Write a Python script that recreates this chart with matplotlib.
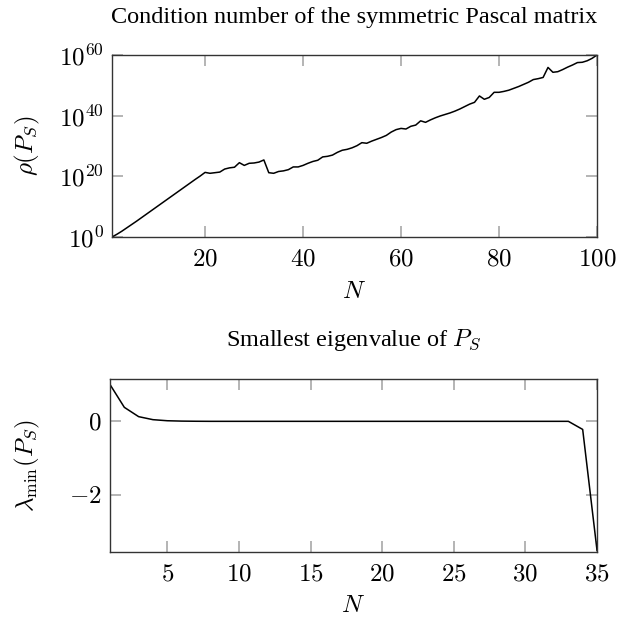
import matplotlib
matplotlib.use("Agg")
import matplotlib.pyplot as plt
import numpy as np

plt.rcParams['font.family'] = 'serif'
plt.rcParams['font.serif'] = ['Liberation Serif', 'DejaVu Serif']
plt.rcParams['mathtext.fontset'] = 'cm'

# log10 of the condition number rho(P_S), N = 1..100
n_cond = list(range(1, 101))
log_cond = [
    0.0, 0.9, 1.9, 3.0, 4.1, 5.2, 6.35, 7.5, 8.65, 9.8,
    10.95, 12.1, 13.25, 14.4, 15.55, 16.7, 17.85, 19.0, 20.1, 21.3,
    21.0, 21.2, 21.4, 22.4, 22.8, 23.0, 24.5, 23.6, 24.3, 24.4,
    24.7, 25.4, 21.2, 21.0, 21.6, 21.8, 22.2, 23.1, 23.1, 23.6,
    24.3, 24.9, 25.3, 26.4, 26.6, 27.0, 27.9, 28.6, 28.9, 29.4,
    30.1, 31.1, 30.9, 31.6, 32.2, 32.8, 33.5, 34.6, 35.4, 35.8,
    35.6, 36.5, 36.9, 38.3, 37.8, 38.6, 39.3, 39.9, 40.4, 40.9,
    41.5, 42.2, 43.0, 43.8, 44.4, 46.5, 45.4, 46.0, 47.7, 47.7,
    48.0, 48.4, 49.0, 49.6, 50.3, 51.0, 51.9, 52.2, 52.6, 55.9,
    54.3, 54.5, 55.2, 56.0, 56.7, 57.5, 57.6, 58.1, 58.9, 60.0,
]
cond_yticks = [0, 20, 40, 60]
cond_xticks = [20, 40, 60, 80, 100]

# smallest eigenvalue of P_S, N = 1..35
n_eig = list(range(1, 36))
lam_min = [
    1.0, 0.38, 0.127, 0.045, 0.016, 0.006, 0.002, 0.0, 0.0, 0.0,
    0.0, 0.0, 0.0, 0.0, 0.0, 0.0, 0.0, 0.0, 0.0, 0.0,
    0.0, 0.0, 0.0, 0.0, 0.0, 0.0, 0.0, 0.0, 0.0, 0.0,
    0.0, 0.0, 0.0, -0.22, -3.5,
]
eig_yticks = [-2, 0]
eig_xticks = [5, 10, 15, 20, 25, 30, 35]

W, H = 619, 621
fig = plt.figure(figsize=(W / 100, H / 100), dpi=100)


def box(left, top, right, bottom):
    return [left / W, 1 - bottom / H, (right - left) / W, (bottom - top) / H]


def style(ax):
    for s in ax.spines.values():
        s.set_color('#333333')
        s.set_linewidth(1.0)
    ax.tick_params(which='major', direction='in', length=8, width=1.2,
                   color='#a8a8a8', top=True, right=True, labelsize=18)
    ax.tick_params(axis='x', pad=8)
    ax.tick_params(axis='y', pad=6)
    ax.tick_params(which='minor', length=0)


ax1 = fig.add_axes(box(112, 55, 597, 237))
ax1.plot(n_cond, 10.0 ** np.array(log_cond), color='black', lw=1.1)
ax1.set_yscale('log')
ax1.set_xlim(1, 100)
ax1.set_ylim(1, 1e60)
ax1.set_yticks([10.0 ** v for v in cond_yticks])
ax1.set_yticklabels([f'$10^{{{v}}}$' for v in cond_yticks])
ax1.set_xticks(cond_xticks)
ax1.set_xticklabels([f'${v}$' for v in cond_xticks])
ax1.minorticks_off()
style(ax1)
ax1.set_title('Condition number of the symmetric Pascal matrix',
              fontsize=17.5, pad=23)
ax1.set_xlabel('$N$', fontsize=18)
ax1.set_ylabel(r'$\rho(P_S)$', fontsize=18)
ax1.xaxis.set_label_coords(0.5, -0.24)
ax1.yaxis.set_label_coords(-0.145, 0.5)

ax2 = fig.add_axes(box(110, 379, 597, 552))
ax2.plot(n_eig, lam_min, color='black', lw=1.1)
ax2.set_xlim(1, 35)
ax2.set_ylim(-3.55, 1.15)
ax2.set_yticks(eig_yticks)
ax2.set_yticklabels([f'${v}$' for v in eig_yticks])
ax2.set_xticks(eig_xticks)
ax2.set_xticklabels([f'${v}$' for v in eig_xticks])
style(ax2)
ax2.set_title('Smallest eigenvalue of $P_S$', fontsize=17.5, pad=24)
ax2.set_xlabel('$N$', fontsize=18)
ax2.set_ylabel(r'$\lambda_{\min}(P_S)$', fontsize=18)
ax2.xaxis.set_label_coords(0.5, -0.25)
ax2.yaxis.set_label_coords(-0.14, 0.5)

fig.savefig('out.png', dpi=100)
